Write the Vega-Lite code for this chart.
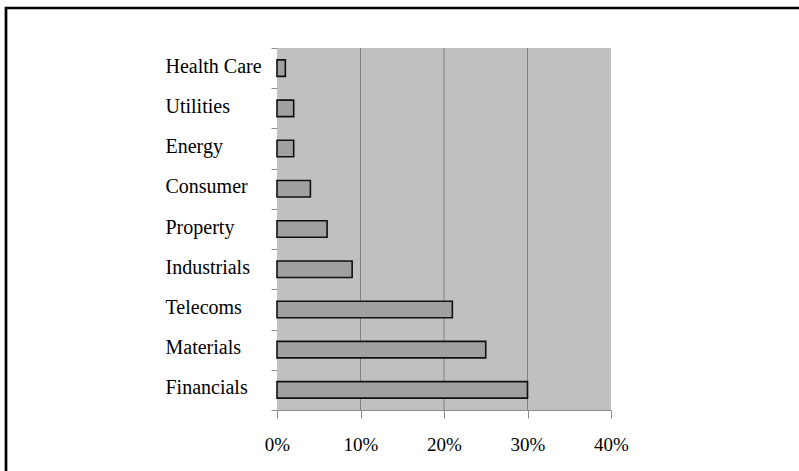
{
  "$schema": "https://vega.github.io/schema/vega-lite/v6.json",
  "width": 793,
  "height": 463,
  "autosize": {"type": "none"},
  "padding": {"left": 6, "top": 8, "right": 0, "bottom": 0},
  "background": "#ffffff",
  "config": {
    "view": {"stroke": "#000000", "strokeWidth": 2.7, "strokeDash": [793, 1256, 463], "fill": "#ffffff"}
  },
  "datasets": {
    "sectors": [
      {"sector": "Health Care", "share": 0.01},
      {"sector": "Utilities", "share": 0.02},
      {"sector": "Energy", "share": 0.02},
      {"sector": "Consumer", "share": 0.04},
      {"sector": "Property", "share": 0.06},
      {"sector": "Industrials", "share": 0.09},
      {"sector": "Telecoms", "share": 0.21},
      {"sector": "Materials", "share": 0.25},
      {"sector": "Financials", "share": 0.30}
    ],
    "gridlines": [{"pct": 0.1}, {"pct": 0.2}, {"pct": 0.3}]
  },
  "layer": [
    {
      "layer": [
        {
          "data": {"values": [{}]},
          "mark": {"type": "rect", "color": "#c0c0c0"},
          "encoding": {
            "x": {"datum": 0, "type": "quantitative",
                  "scale": {"domain": [0, 0.4], "range": [271, 605], "nice": false},
                  "axis": {"title": null, "format": ".0%", "values": [0, 0.1, 0.2, 0.3, 0.4], "grid": false, "offset": -61, "labelFlush": false, "tickSize": 8, "tickColor": "#8c8c8c", "domainColor": "#8c8c8c", "labelFont": "Liberation Serif", "labelFontSize": 19, "labelColor": "#000000", "labelPadding": 32, "labelBaseline": "alphabetic"}},
            "x2": {"datum": 0.4},
            "y": {"datum": 0, "type": "quantitative", "scale": {"domain": [0, 1], "range": [40, 402], "nice": false}, "axis": null},
            "y2": {"datum": 1}
          }
        },
        {
          "data": {"name": "gridlines"},
          "mark": {"type": "rule", "color": "#808080", "strokeWidth": 1},
          "encoding": {
            "x": {"field": "pct", "type": "quantitative",
                  "scale": {"domain": [0, 0.4], "range": [271, 605], "nice": false},
                  "axis": {"title": null, "format": ".0%", "values": [0, 0.1, 0.2, 0.3, 0.4], "grid": false, "offset": -61, "labelFlush": false, "tickSize": 8, "tickColor": "#8c8c8c", "domainColor": "#8c8c8c", "labelFont": "Liberation Serif", "labelFontSize": 19, "labelColor": "#000000", "labelPadding": 32, "labelBaseline": "alphabetic"}},
            "y": {"datum": 0, "type": "quantitative", "scale": {"domain": [0, 1], "range": [40, 402], "nice": false}, "axis": null},
            "y2": {"datum": 1}
          }
        }
      ]
    },
    {
      "data": {"name": "sectors"},
      "mark": {"type": "bar", "height": {"band": 0.41}, "fill": "#a0a0a0", "stroke": "#111111", "strokeWidth": 1.6},
      "encoding": {
        "x": {"field": "share", "type": "quantitative",
              "scale": {"domain": [0, 0.4], "range": [271, 605], "nice": false},
              "axis": {"title": null, "format": ".0%", "values": [0, 0.1, 0.2, 0.3, 0.4], "grid": false, "offset": -61, "labelFlush": false, "tickSize": 8, "tickColor": "#8c8c8c", "domainColor": "#8c8c8c", "labelFont": "Liberation Serif", "labelFontSize": 19, "labelColor": "#000000", "labelPadding": 32, "labelBaseline": "alphabetic"}},
        "y": {"field": "sector", "type": "nominal",
              "scale": {"domain": ["Health Care", "Utilities", "Energy", "Consumer", "Property", "Industrials", "Telecoms", "Materials", "Financials"], "range": [40, 402], "paddingInner": 0, "paddingOuter": 0},
              "axis": {"title": null, "offset": -271, "tickBand": "extent", "tickSize": 6, "tickColor": "#8c8c8c", "domainColor": "#8c8c8c", "grid": false, "labelFont": "Liberation Serif", "labelFontSize": 20, "labelColor": "#000000", "labelAlign": "left", "labelPadding": 106, "labelLimit": 200, "labelBaseline": "alphabetic", "labelOffset": 4}}
      }
    }
  ],
  "resolve": {"scale": {"y": "independent"}, "axis": {"y": "independent"}}
}
